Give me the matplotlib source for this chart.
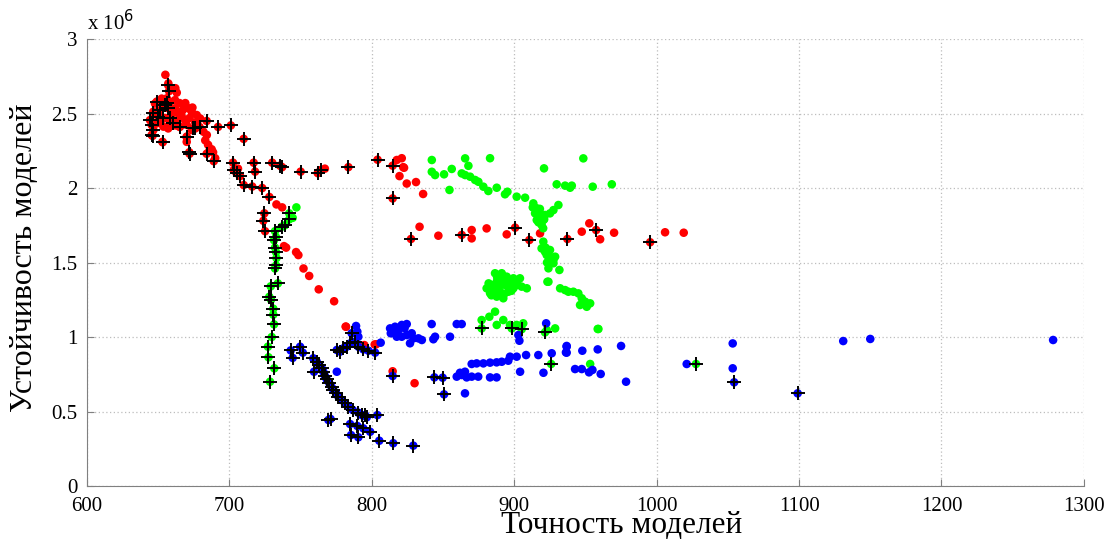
import numpy as np
import matplotlib
matplotlib.use("Agg")
import matplotlib.pyplot as plt

plt.rcParams['font.family'] = ['Liberation Serif', 'DejaVu Serif']

# значения по оси Y в миллионах (x 10^6)
red_x = [655, 662, 663, 665, 669, 674, 677, 670, 685, 687.5, 688.5, 706, 733, 737, 767,
         821, 822, 819.4, 824.5, 831, 836, 833.5, 846.7, 738.3, 739.8, 746.8, 748.4, 752, 756,
         762.7, 773.5, 781.6, 802, 814.6, 830, 817.5, 822.6, 870.1, 870.1, 880.6, 894.7, 918.1,
         947.4, 952.7, 960.3, 970.1, 1005.9, 1019, 781.9, 794.7, 803,
         657.1, 660.6, 656, 658.3, 661.8, 668.8, 671.2, 673.5, 679.4, 661.8, 664.1, 666.5, 668.8,
         651.3, 649, 653.6, 658.3, 670, 673.5, 681.7, 684.1, 652.4, 647.7, 646.5,
         655, 660, 663, 650, 657, 662, 667, 672, 676, 683, 686, 690]
red_y = [2.76, 2.67, 2.64, 2.57, 2.57, 2.54, 2.49, 2.31, 2.29, 2.26, 2.24, 2.13, 1.89, 1.87, 2.13,
         2.20, 2.14, 2.08, 2.03, 2.04, 1.96, 1.74, 1.68, 1.61, 1.60, 1.57, 1.55, 1.46, 1.41,
         1.32, 1.24, 1.07, 0.95, 0.77, 0.69, 2.188, 2.136, 1.718, 1.662, 1.729, 1.689, 1.696,
         1.707, 1.763, 1.656, 1.70, 1.703, 1.70, 1.069, 0.946, 0.951,
         2.702, 2.669, 2.602, 2.579, 2.59, 2.557, 2.535, 2.512, 2.467, 2.535, 2.501, 2.479, 2.456,
         2.49, 2.434, 2.412, 2.445, 2.423, 2.389, 2.378, 2.356, 2.6, 2.567, 2.512,
         2.47, 2.50, 2.45, 2.45, 2.40, 2.42, 2.52, 2.47, 2.44, 2.32, 2.25, 2.20]
red_px = [657, 657.6, 649, 656, 684, 692, 701, 710, 676, 679, 665, 670, 653, 646, 672, 684, 689,
          702.5, 703, 705, 707.5, 710, 716, 723, 728, 717, 718, 730, 735.5, 737, 750, 762, 764,
          783.5, 804, 814.6, 814.6, 724.5, 723.8, 725, 827.5, 863.1, 900.6, 910.6, 937.3, 957.5,
          995.4, 651.3, 646.6, 644.2, 645.4, 646.6, 645.4, 650.1, 653.6, 658.3, 660.6, 665.3,
          670, 674.7, 653.1, 671.8, 657.1, 654.8]
red_py = [2.69, 2.65, 2.58, 2.57, 2.45, 2.41, 2.42, 2.33, 2.40, 2.41, 2.41, 2.34, 2.31, 2.35, 2.23,
          2.23, 2.18, 2.17, 2.12, 2.10, 2.08, 2.02, 2.01, 2.0, 1.94, 2.17, 2.11, 2.17, 2.15, 2.14,
          2.11, 2.10, 2.12, 2.14, 2.19, 2.15, 1.93, 1.83, 1.78, 1.71, 1.658, 1.685, 1.734, 1.651,
          1.658, 1.718, 1.636, 2.523, 2.501, 2.456, 2.423, 2.389, 2.356, 2.479, 2.467, 2.467,
          2.434, 2.412, 2.345, 2.401, 2.307, 2.24, 2.535, 2.557]

green_x = [747, 744.4,
           842.1, 842.1, 844.4, 850.7, 856.1, 865.5, 867.8, 863.1, 865.5, 869, 872.5, 874.8, 878.3,
           881.8, 887.7, 883, 854.5, 893.5, 895.2, 901.7, 907.6, 948.5, 920.9, 929.8, 935.7, 939.2,
           940.4, 955.1, 968.5,
           913.4, 915.8, 914.6, 916.9, 918.1, 920.4, 919.2, 915.8, 921.6, 925.1, 927.5, 931, 920.3,
           917, 919, 913, 917, 921, 918,
           920.4, 919.2, 921.6, 922.8, 925.1, 927.5, 928.7, 925.1, 927.5, 924, 931.7, 923.3,
           922, 924, 926, 923,
           880.6, 884.1, 887.7, 891.2, 894.7, 899.4, 904, 908.8, 883, 887.7, 892.3, 895.9, 899.4,
           886.5, 890, 893.5, 901.7, 905.2, 885.3,
           882, 886, 889, 892, 896, 898, 902, 888, 884, 893, 897, 890,
           932.2, 935.7, 938, 941.5, 945, 947.4, 949.8, 953.3, 946.2, 950.9, 924,
           886.5, 882.5, 877.1, 887.7, 892.3, 897, 901.7, 906.3, 928.7, 922.9, 959.1, 958.6, 953.3]
green_y = [1.87, 1.80,
           2.188, 2.109, 2.087, 2.092, 2.128, 2.199, 2.149, 2.098, 2.087, 2.076, 2.054, 2.042, 2.009,
           1.98, 2.002, 2.2, 1.987, 1.958, 1.975, 1.942, 1.935, 2.199, 2.132, 2.025, 2.016, 2.002,
           2.016, 2.009, 2.025,
           1.897, 1.864, 1.83, 1.808, 1.83, 1.785, 1.752, 1.785, 1.819, 1.83, 1.852, 1.886, 1.73,
           1.84, 1.80, 1.87, 1.77, 1.79, 1.86,
           1.64, 1.595, 1.572, 1.55, 1.528, 1.517, 1.539, 1.584, 1.495, 1.461, 1.45, 1.371,
           1.60, 1.56, 1.53, 1.50,
           1.327, 1.349, 1.371, 1.428, 1.405, 1.394, 1.394, 1.327, 1.294, 1.271, 1.26, 1.304, 1.327,
           1.428, 1.304, 1.349, 1.349, 1.338, 1.315,
           1.36, 1.30, 1.33, 1.36, 1.38, 1.31, 1.37, 1.40, 1.28, 1.29, 1.35, 1.39,
           1.327, 1.315, 1.304, 1.304, 1.293, 1.26, 1.237, 1.226, 1.215, 1.203, 1.371,
           1.17, 1.136, 1.114, 1.081, 1.114, 1.081, 1.081, 1.092, 1.058, 1.047, 1.054, 1.054, 0.819]
green_px = [742, 742, 739, 736.7, 732, 732.7, 731.3, 732, 732.7, 733, 732, 732.7, 729, 734, 728,
            729.2, 730.8, 730.8, 731.3, 729.7, 727, 727.4, 731.5, 728.5, 877.1, 898.2, 905.2,
            921.6, 925.9, 1027.6]
green_py = [1.83, 1.79, 1.75, 1.74, 1.71, 1.67, 1.65, 1.60, 1.57, 1.53, 1.46, 1.48, 1.34, 1.36, 1.27,
            1.25, 1.19, 1.15, 1.085, 1.00, 0.935, 0.864, 0.79, 0.70, 1.058, 1.058, 1.052,
            1.031, 0.819, 0.819]

blue_x = [775.4, 788.9, 789.8, 790.5, 806.2,
          812.8, 816.3, 821, 824.5, 813.3, 817.5, 821, 824.5, 828, 829.2, 832.7, 835.1, 826.8, 842,
          815, 819, 823, 818,
          844.4, 843.2, 854.9, 859.6, 863.1,
          859.6, 863.1, 866.6, 870.1, 874.7, 883, 887.6, 861.9, 865.4,
          870.1, 873.6, 878.3, 883, 887.6, 891.2, 895.8, 897, 901.7, 908.3, 916.9, 926.3, 936.8,
          936.8, 865.4, 904.1, 920.5, 922.4, 902.9, 903.6,
          936.8, 936.3, 947.8, 958.6, 975, 942.7, 947.4, 952.5, 954.9, 960.7, 978.5,
          1021.1, 1053.4, 1053.4, 1131, 1150, 1278.4]
blue_y = [0.767, 1.074, 1.036, 1.002, 0.962,
          1.058, 1.069, 1.081, 1.087, 1.025, 1.002, 1.002, 1.013, 1.025, 0.991, 0.991, 0.98, 0.958,
          1.087, 1.04, 1.05, 1.06, 1.02,
          1.002, 0.985, 1.002, 1.087, 1.087,
          0.734, 0.745, 0.729, 0.734, 0.734, 0.729, 0.729, 0.760, 0.767,
          0.819, 0.823, 0.823, 0.828, 0.830, 0.834, 0.841, 0.868, 0.868, 0.879, 0.879, 0.891, 0.935,
          0.895, 0.622, 0.767, 0.760, 1.092, 1.013, 0.975,
          0.94, 0.897, 0.908, 0.917, 0.94, 0.785, 0.785, 0.763, 0.779, 0.752, 0.70,
          0.819, 0.957, 0.79, 0.973, 0.987, 0.98]
blue_px = [743, 744.4, 749.6, 751.5,
           758.9, 761.3, 763.1, 764.8, 759.4, 765.9, 767.1, 768.3, 770.2, 771.8, 773, 774.9, 776.5,
           778.8, 781.2, 783.5, 786.6, 790.5, 792.9, 795.2, 796.4,
           769.5, 771, 784.7, 789.8, 794, 798.8, 785.4, 790.5, 805.2, 815, 829.1, 803.9,
           775.4, 777.7, 780, 782.3, 784.7, 785.8, 788.2, 790.5, 794, 797.6, 802.3,
           814.6, 843.9, 849.7, 850.7, 1054.4, 1099]
blue_py = [0.91, 0.86, 0.935, 0.895,
           0.857, 0.834, 0.812, 0.790, 0.767, 0.767, 0.738, 0.716, 0.689, 0.662, 0.644, 0.622, 0.60,
           0.577, 0.555, 0.532, 0.51, 0.492, 0.476, 0.476, 0.461,
           0.443, 0.45, 0.416, 0.403, 0.387, 0.364, 0.342, 0.327, 0.304, 0.287, 0.271, 0.476,
           0.913, 0.902, 0.924, 0.935, 0.957, 1.025, 0.968, 0.935, 0.917, 0.908, 0.895,
           0.738, 0.729, 0.727, 0.615, 0.696, 0.622]

x_ticks = [600, 700, 800, 900, 1000, 1100, 1200, 1300]
y_ticks = [0, 0.5, 1, 1.5, 2, 2.5, 3]
y_tick_labels = ['0', '0.5', '1', '1.5', '2', '2.5', '3']

fig = plt.figure(figsize=(11.06, 5.39), dpi=100)
ax = fig.add_axes([0.0787, 0.0983, 0.9013, 0.8293])

dot = 38
ax.scatter(red_x + red_px, red_y + red_py, s=dot, c='red', edgecolors='none', zorder=3)
ax.scatter(green_x + green_px, green_y + green_py, s=dot, c='#00ff00', edgecolors='none', zorder=3)
ax.scatter(blue_x + blue_px, blue_y + blue_py, s=dot, c='blue', edgecolors='none', zorder=3)
ax.plot(red_px + green_px + blue_px, red_py + green_py + blue_py, '+', color='black',
        markersize=10, markeredgewidth=1.4, linestyle='none', zorder=4)

ax.set_xlim(600, 1300)
ax.set_ylim(0, 3)
ax.set_xticks(x_ticks)
ax.set_yticks(y_ticks)
ax.set_yticklabels(y_tick_labels)
ax.grid(True, linestyle=(0, (1, 2)), color='#bdbdbd', linewidth=0.9)
ax.set_axisbelow(True)
for s in ['top', 'right']:
    ax.spines[s].set_visible(False)
for s in ['left', 'bottom']:
    ax.spines[s].set_color('#808080')
ax.tick_params(direction='in', length=5, color='#808080', labelsize=15)
ax.tick_params(axis='x', pad=8)
ax.tick_params(axis='y', pad=7)

ax.text(0, 1.008, 'x 10$^{6}$', transform=ax.transAxes, fontsize=15, ha='left', va='bottom')
ax.set_xlabel('Точность моделей', fontsize=22.5)
ax.xaxis.set_label_coords(0.536, -0.057)
ax.set_ylabel('Устойчивость моделей', fontsize=23)
ax.yaxis.set_label_coords(-0.048, 0.51)

fig.savefig('out.png', dpi=100)
